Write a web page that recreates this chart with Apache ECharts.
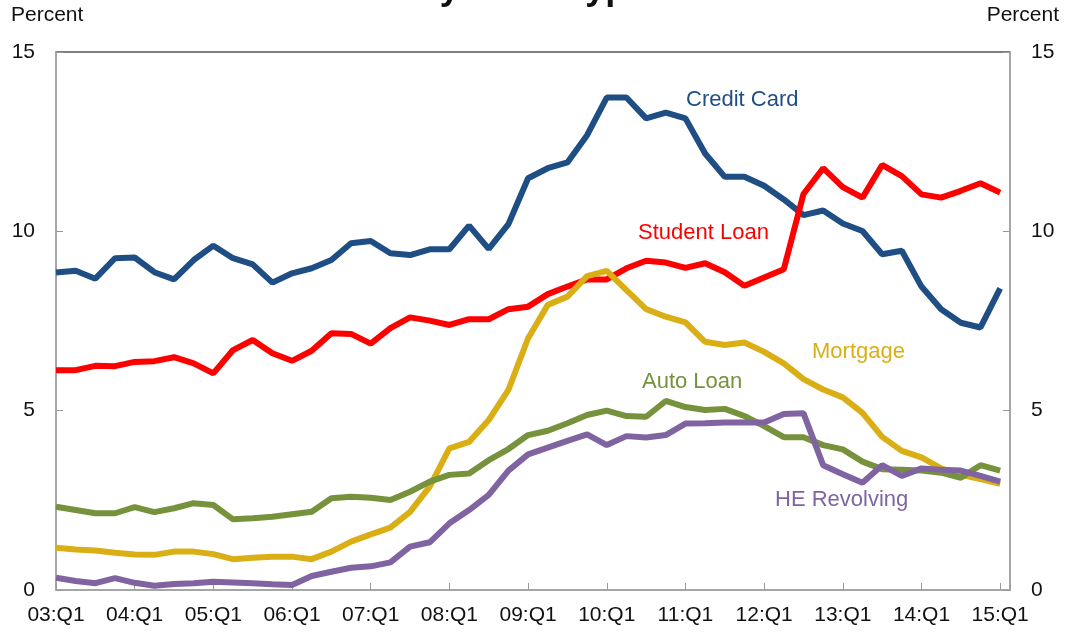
<!DOCTYPE html>
<html>
<head>
<meta charset="utf-8">
<script src="https://cdn.jsdelivr.net/npm/echarts@6/dist/echarts.min.js"></script>
<style>
  html, body { margin: 0; padding: 0; background: #fff; }
  #chart { width: 1065px; height: 632px; }
</style>
</head>
<body>
<div id="chart"></div>
<script>
  // quarterly, 03:Q1 .. 15:Q1 (49 points)
  var years = ['03', '04', '05', '06', '07', '08', '09', '10', '11', '12', '13', '14', '15'];
  var tickLabels = years.map(function (y) { return y + ':Q1'; });

  var creditCard = [8.85, 8.90, 8.68, 9.25, 9.27, 8.86, 8.66, 9.20, 9.60, 9.25,
    9.08, 8.57, 8.83, 8.97, 9.20, 9.67, 9.73, 9.39, 9.34, 9.50,
    9.50, 10.16, 9.51, 10.20, 11.48, 11.76, 11.92, 12.68, 13.73, 13.73,
    13.15, 13.31, 13.15, 12.17, 11.52, 11.52, 11.27, 10.89, 10.45, 10.58,
    10.22, 10.01, 9.36, 9.46, 8.46, 7.83, 7.45, 7.32, 8.41];
  var studentLoan = [6.13, 6.13, 6.25, 6.24, 6.36, 6.38, 6.49, 6.32, 6.04, 6.69,
    6.97, 6.60, 6.39, 6.67, 7.16, 7.14, 6.87, 7.30, 7.60, 7.51,
    7.39, 7.55, 7.55, 7.83, 7.90, 8.25, 8.46, 8.66, 8.66, 8.97,
    9.18, 9.13, 8.98, 9.11, 8.86, 8.48, 8.71, 8.94, 11.04, 11.76,
    11.23, 10.94, 11.85, 11.54, 11.03, 10.94, 11.13, 11.34, 11.08];
  var mortgage = [1.18, 1.13, 1.10, 1.04, 0.99, 0.98, 1.07, 1.07, 1.00, 0.86,
    0.90, 0.93, 0.93, 0.86, 1.07, 1.35, 1.55, 1.74, 2.18, 2.88,
    3.95, 4.13, 4.74, 5.58, 7.02, 7.95, 8.18, 8.75, 8.90, 8.36,
    7.83, 7.62, 7.46, 6.92, 6.83, 6.90, 6.64, 6.32, 5.88, 5.59,
    5.37, 4.94, 4.27, 3.88, 3.70, 3.39, 3.21, 3.09, 2.96];
  var autoLoan = [2.32, 2.23, 2.14, 2.14, 2.31, 2.17, 2.28, 2.42, 2.37, 1.97,
    2.00, 2.04, 2.11, 2.18, 2.56, 2.60, 2.57, 2.51, 2.74, 3.02,
    3.21, 3.25, 3.62, 3.93, 4.32, 4.44, 4.65, 4.88, 5.00, 4.85,
    4.83, 5.27, 5.10, 5.02, 5.05, 4.85, 4.57, 4.26, 4.26, 4.04,
    3.92, 3.58, 3.37, 3.35, 3.33, 3.27, 3.13, 3.48, 3.33];
  var heRevolving = [0.34, 0.25, 0.19, 0.33, 0.20, 0.12, 0.17, 0.19, 0.23, 0.21,
    0.19, 0.16, 0.14, 0.39, 0.51, 0.62, 0.66, 0.77, 1.21, 1.33,
    1.86, 2.23, 2.65, 3.33, 3.78, 3.97, 4.16, 4.34, 4.04, 4.29,
    4.25, 4.32, 4.64, 4.65, 4.67, 4.67, 4.67, 4.91, 4.93, 3.48,
    3.23, 2.99, 3.48, 3.18, 3.39, 3.35, 3.33, 3.18, 3.02];

  var font = '"Liberation Sans", Arial, sans-serif';

  function pairs(arr) {
    return arr.map(function (v, i) { return [i, v]; });
  }

  function lineSeries(name, arr, color) {
    return {
      name: name,
      type: 'line',
      data: pairs(arr),
      showSymbol: false,
      lineStyle: { width: 6, color: color },
      itemStyle: { color: color }
    };
  }

  function seriesLabel(text, x, y, color) {
    return {
      type: 'text',
      x: x,
      y: y,
      style: { text: text, fill: color, font: '22px ' + font, align: 'left', verticalAlign: 'middle' }
    };
  }

  var yAxisBase = {
    type: 'value',
    min: 0,
    max: 15,
    interval: 5,
    splitLine: { show: false },
    axisLine: { show: true, lineStyle: { color: '#b4b4b4', width: 1.5 } },
    axisTick: { show: true, inside: true, length: 7, lineStyle: { color: '#999' } },
    axisLabel: { color: '#111', fontSize: 21, fontFamily: font, margin: 21 }
  };

  var chart = echarts.init(document.getElementById('chart'));
  chart.setOption({
    animation: false,
    backgroundColor: '#fff',
    title: {
      text: 'Percent of Balance 90+ Days Delinquent\nby Loan Type',
      left: 'center',
      top: -76,
      textStyle: { fontSize: 36, fontWeight: 'bold', lineHeight: 40, color: '#111', fontFamily: font }
    },
    grid: {
      left: 56, right: 55, top: 52, bottom: 42,
      show: true, borderColor: '#555', borderWidth: 1.5
    },
    xAxis: {
      type: 'value',
      min: 0,
      max: 48.5,
      interval: 4,
      splitLine: { show: false },
      axisLine: { show: true, lineStyle: { color: '#b4b4b4', width: 1.5 } },
      axisTick: { show: true, inside: true, length: 7, lineStyle: { color: '#999' } },
      axisLabel: {
        color: '#111', fontSize: 21, fontFamily: font, margin: 15,
        formatter: function (v) {
          return v % 4 === 0 ? tickLabels[v / 4] : '';
        }
      }
    },
    yAxis: [
      Object.assign({ position: 'left' }, yAxisBase),
      Object.assign({ position: 'right' }, yAxisBase)
    ],
    series: [
      lineSeries('Credit Card', creditCard, '#1F4E84'),
      lineSeries('Student Loan', studentLoan, '#FF0000'),
      lineSeries('Mortgage', mortgage, '#DAAF16'),
      lineSeries('Auto Loan', autoLoan, '#76923C'),
      lineSeries('HE Revolving', heRevolving, '#8064A2')
    ],
    graphic: [
      { type: 'text', x: 11, y: 15, style: { text: 'Percent', fill: '#111', font: '21px ' + font, align: 'left', verticalAlign: 'middle' } },
      { type: 'text', x: 1059, y: 15, style: { text: 'Percent', fill: '#111', font: '21px ' + font, align: 'right', verticalAlign: 'middle' } },
      seriesLabel('Credit Card', 686, 100, '#1F4E84'),
      seriesLabel('Student Loan', 638, 233, '#FF0000'),
      seriesLabel('Mortgage', 812, 352, '#DAAF16'),
      seriesLabel('Auto Loan', 642, 382, '#76923C'),
      seriesLabel('HE Revolving', 775, 500, '#8064A2')
    ]
  });
</script>
</body>
</html>
